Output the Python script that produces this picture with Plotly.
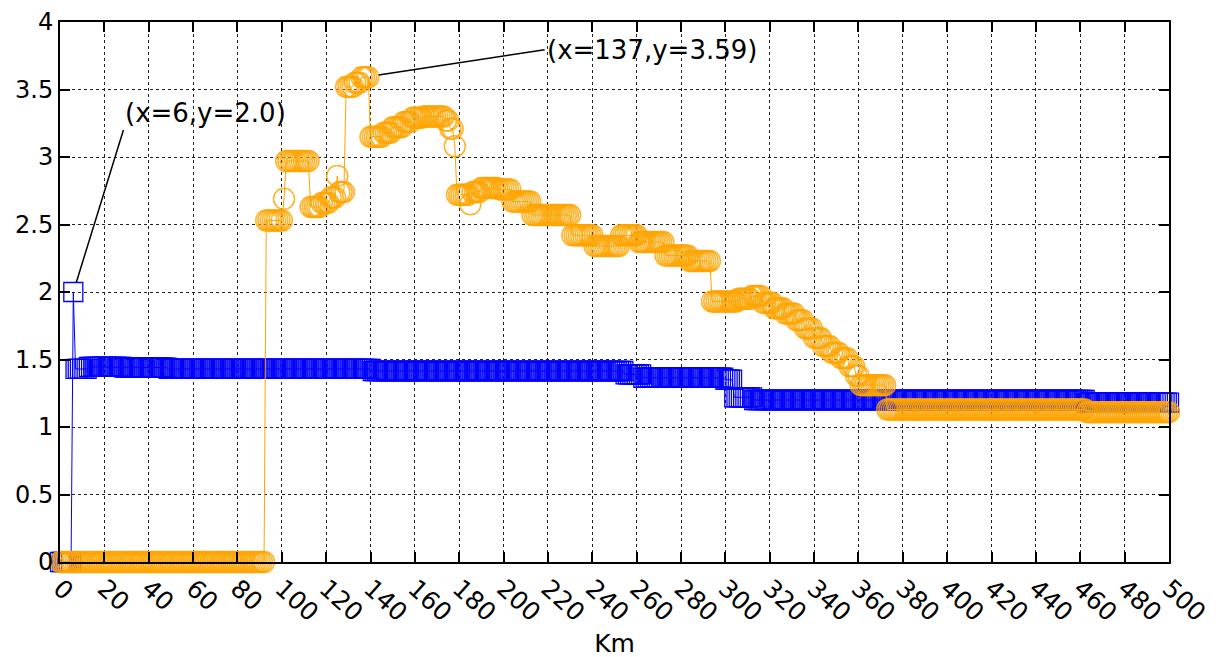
import plotly.graph_objects as go

# ---------------- data ----------------
km_tick_values = list(range(0, 501, 20))
y_tick_values = [0, 0.5, 1, 1.5, 2, 2.5, 3, 3.5, 4]
y_tick_labels = ["0", "0.5", "1", "1.5", "2", "2.5", "3", "3.5", "4"]

# blue series (squares): constant runs  start km, end km, value
blue_start = [0, 6, 7, 13, 29, 49, 141, 255, 263, 300, 304, 313, 463]
blue_end = [5, 6, 12, 28, 48, 140, 254, 262, 299, 303, 312, 462, 500]
blue_value = [0.0, 2.0, 1.43, 1.445, 1.44, 1.43, 1.415, 1.39, 1.365, 1.35, 1.22, 1.20, 1.18]

# orange series (circles): constant runs  start km, end km, value
orange_start = [0, 93, 101, 102, 113, 118, 122, 125, 126, 129, 133, 136, 140, 146, 150, 155,
                159, 164, 174, 176, 178, 179, 185, 186, 190, 198, 204, 213, 231, 241, 253,
                261, 273, 284, 294, 306, 312, 317, 322, 327, 332, 336, 340, 344, 348, 352,
                356, 359, 361, 373, 463]
orange_end = [92, 100, 101, 112, 117, 121, 124, 125, 128, 132, 135, 139, 145, 149, 154, 158,
              163, 173, 175, 177, 178, 184, 185, 189, 197, 203, 212, 230, 240, 252, 260,
              272, 283, 293, 305, 311, 316, 321, 326, 331, 335, 339, 343, 347, 351, 355,
              358, 360, 372, 462, 500]
orange_value = [0.0, 2.53, 2.69, 2.97, 2.63, 2.66, 2.70, 2.86, 2.74, 3.52, 3.55, 3.59, 3.15,
                3.18, 3.22, 3.26, 3.29, 3.30, 3.27, 3.21, 3.08, 2.72, 2.65, 2.74, 2.77, 2.76,
                2.67, 2.57, 2.42, 2.34, 2.42, 2.37, 2.27, 2.23, 1.93, 1.95, 1.97, 1.92, 1.88,
                1.84, 1.79, 1.73, 1.66, 1.60, 1.55, 1.51, 1.45, 1.38, 1.31, 1.13, 1.11]

# annotated points
note_points_km = [6, 137]
note_points_val = [2.0, 3.59]
note_texts = ["(x=6,y=2.0)", "(x=137,y=3.59)"]


def expand(starts, ends, values):
    xs, ys = [], []
    for s, e, v in zip(starts, ends, values):
        for k in range(s, e + 1):
            xs.append(k)
            ys.append(v)
    return xs, ys


bx, by = expand(blue_start, blue_end, blue_value)
ox, oy = expand(orange_start, orange_end, orange_value)

FONT = "DejaVu Sans"

fig = go.Figure()
fig.add_trace(go.Scatter(
    x=bx, y=by, mode="lines+markers", cliponaxis=False,
    line=dict(color="#0000ff", width=1),
    marker=dict(symbol="square-open", size=19, color="#0000ff",
                line=dict(width=1.3, color="#0000ff")),
    showlegend=False,
))
fig.add_trace(go.Scatter(
    x=ox, y=oy, mode="lines+markers", cliponaxis=False,
    line=dict(color="#ffa500", width=1),
    marker=dict(symbol="circle-open", size=21, color="rgba(255,165,0,0.85)",
                line=dict(width=1.5, color="rgba(255,165,0,0.85)")),
    showlegend=False,
))

axis_common = dict(
    showline=True, linecolor="black", linewidth=2, mirror="allticks",
    ticks="inside", ticklen=10, tickwidth=2, tickcolor="black",
    showgrid=True, gridcolor="#222", gridwidth=1, griddash="3px,3px",
    zeroline=False, tickfont=dict(family=FONT, size=25, color="black"),
    automargin=False, ticklabeloverflow="allow",
)

fig.update_xaxes(
    range=[0, 500], tickvals=km_tick_values, ticktext=[str(v) for v in km_tick_values],
    tickangle=42,
    title=dict(text="Km", font=dict(family=FONT, size=25, color="black"), standoff=8),
    **axis_common,
)
fig.update_yaxes(
    range=[0, 4], tickvals=y_tick_values, ticktext=y_tick_labels,
    **axis_common,
)
fig.update_yaxes(tickfont=dict(family=FONT, size=24, color="black"))

fig.add_annotation(
    x=note_points_km[0], y=note_points_val[0], xref="x", yref="y",
    ax=28.6, ay=3.20, axref="x", ayref="y",
    text=note_texts[0], showarrow=True, arrowhead=0, arrowwidth=1.5,
    arrowcolor="black", standoff=10, xanchor="left", yanchor="bottom",
    font=dict(family=FONT, size=26, color="black"),
)
fig.add_annotation(
    x=note_points_km[1], y=note_points_val[1], xref="x", yref="y",
    ax=218.5, ay=3.795, axref="x", ayref="y",
    text=note_texts[1], showarrow=True, arrowhead=0, arrowwidth=1.5,
    arrowcolor="black", standoff=15, xanchor="left", yanchor="middle",
    font=dict(family=FONT, size=26, color="black"),
)

fig.update_layout(
    width=1224, height=657,
    margin=dict(l=52, r=63, t=14, b=103),
    paper_bgcolor="white", plot_bgcolor="white",
    font=dict(family=FONT, color="black"),
)

fig.write_html("out.html")
